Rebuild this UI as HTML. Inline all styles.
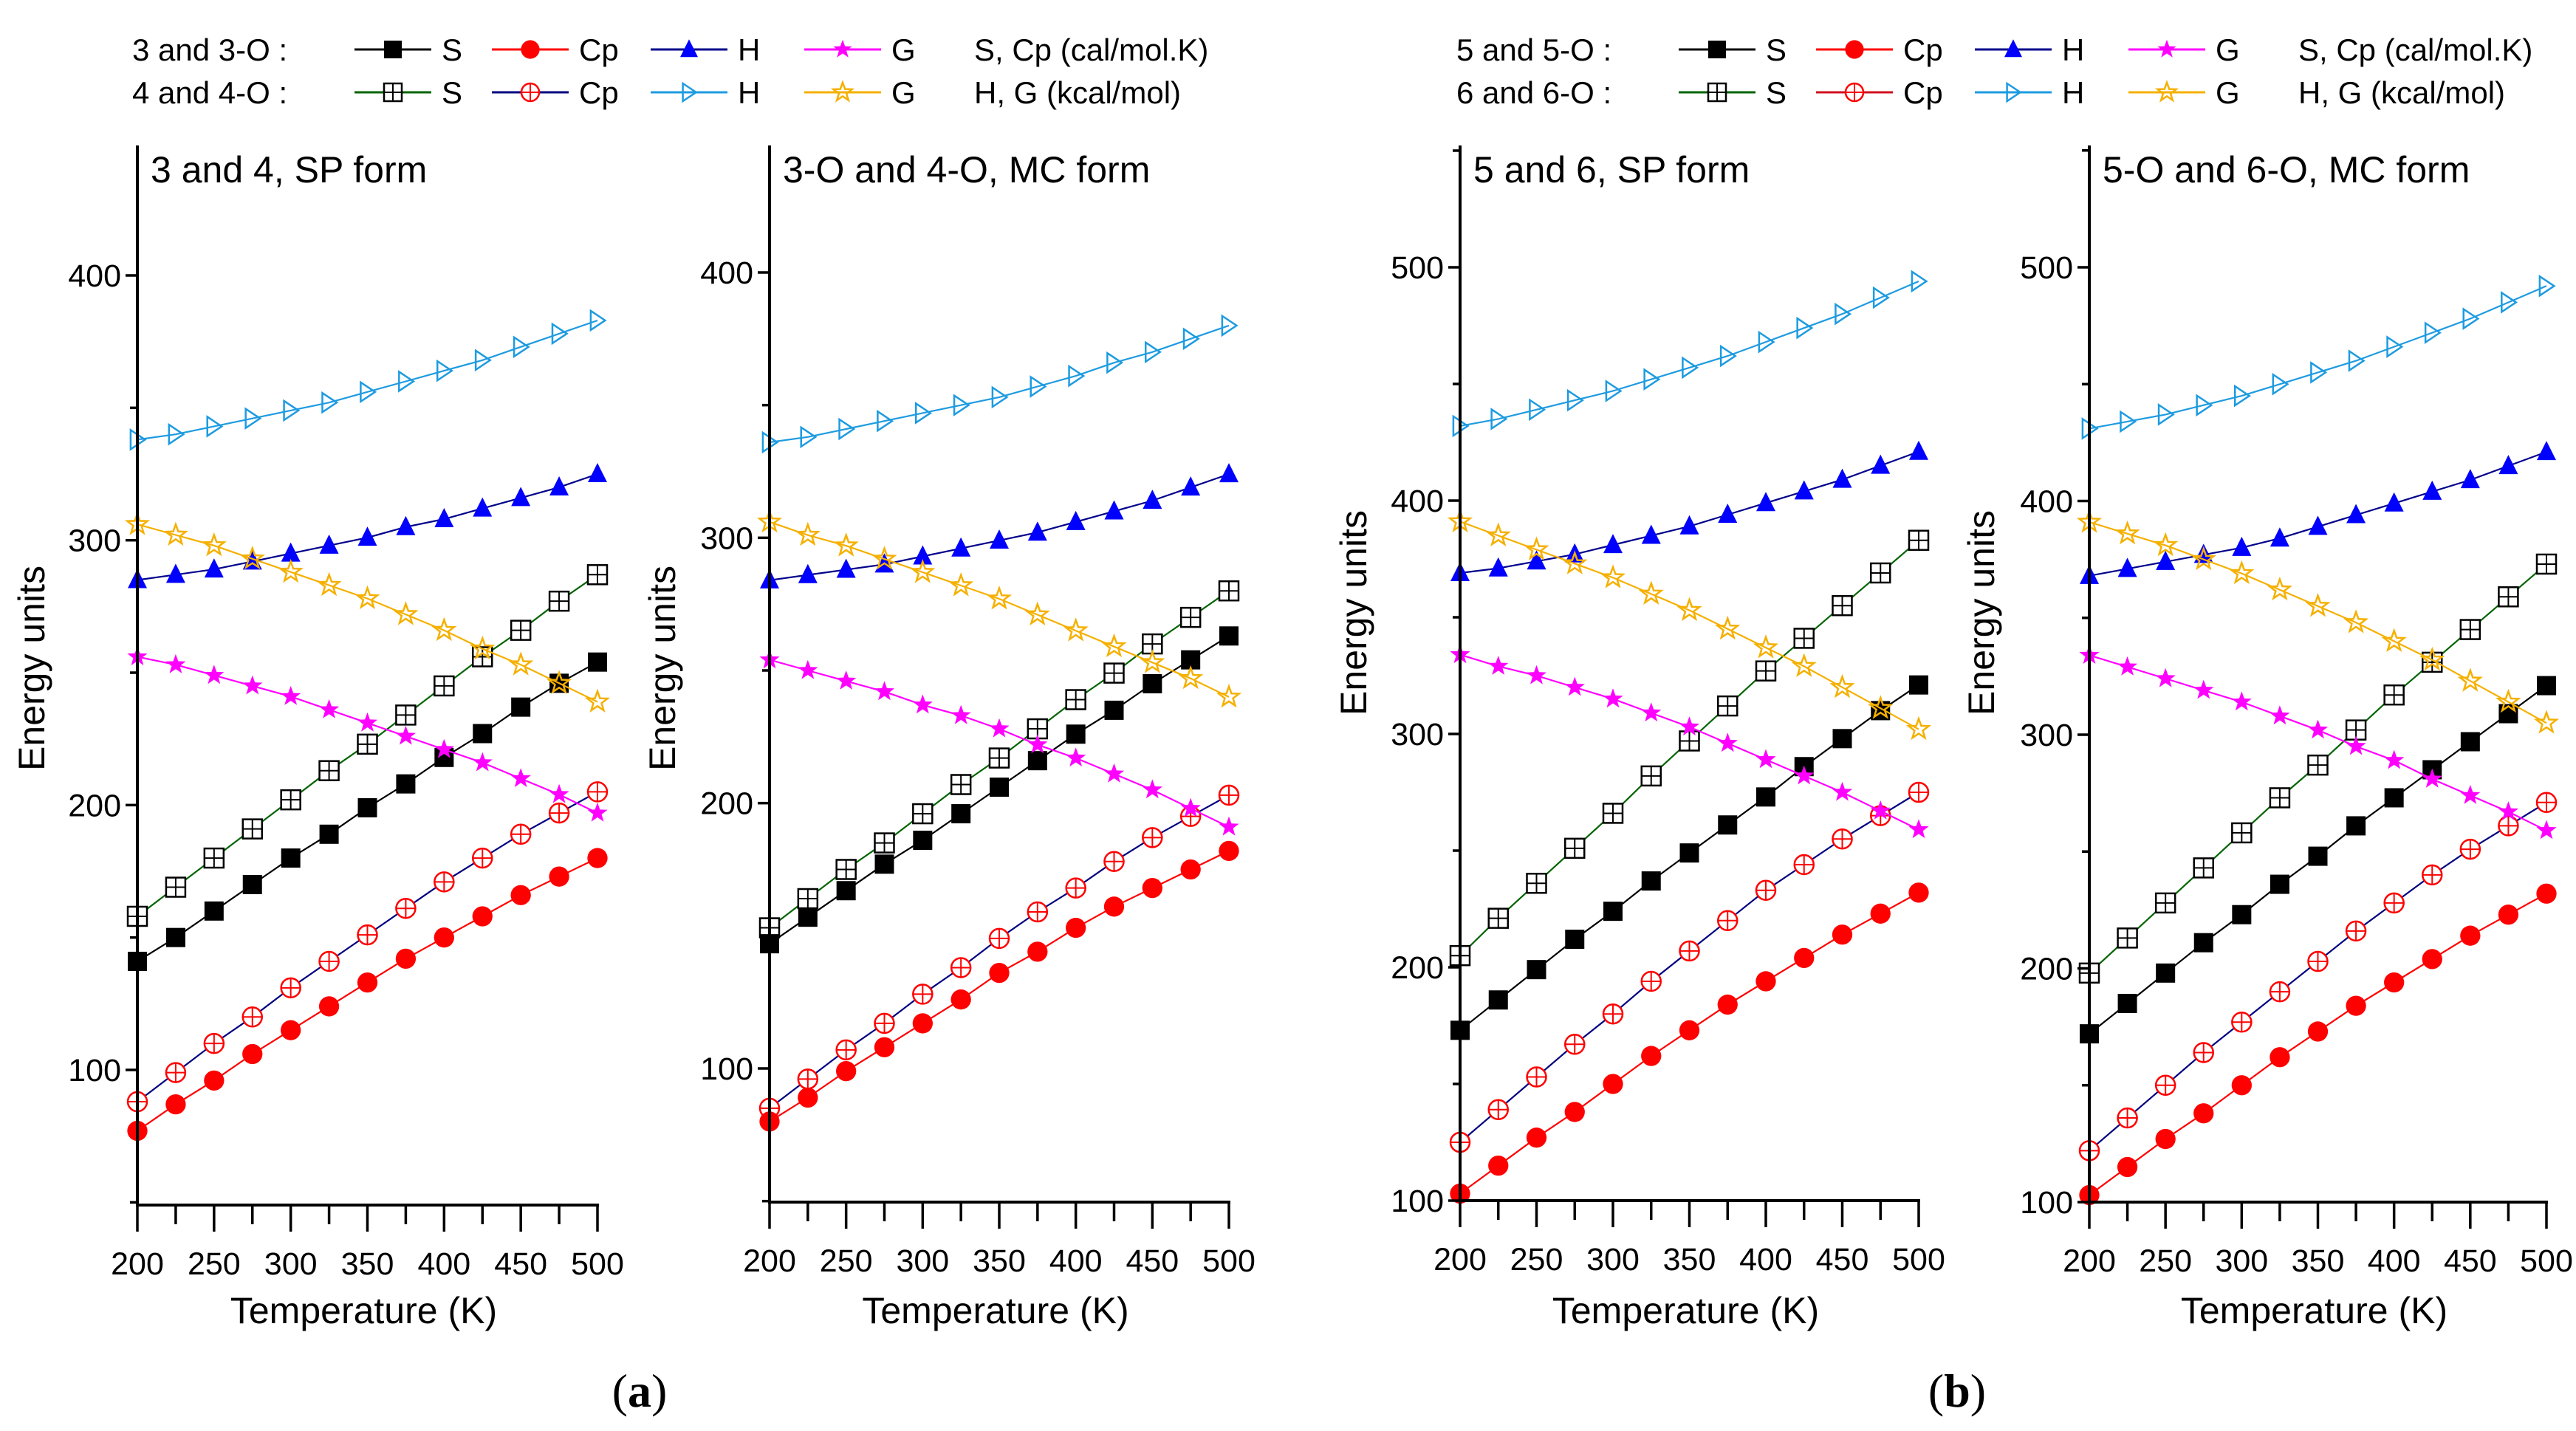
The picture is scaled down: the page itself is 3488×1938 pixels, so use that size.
<!DOCTYPE html>
<html><head><meta charset="utf-8">
<style>
html,body{margin:0;padding:0;background:#fff;}
svg{display:block;font-family:"Liberation Sans",sans-serif;}
</style></head>
<body>
<svg id="fig" width="3488" height="1938" viewBox="0 0 3488 1938" xmlns="http://www.w3.org/2000/svg">
<g id="legends"></g>
<g id="panels"></g>
<text x="866" y="1905" font-family="Liberation Serif, serif" font-size="64" text-anchor="middle">(<tspan font-weight="bold">a</tspan>)</text>
<text x="2650" y="1905" font-family="Liberation Serif, serif" font-size="64" text-anchor="middle">(<tspan font-weight="bold">b</tspan>)</text>
</svg>
<script>
const temps = [200,225,250,275,300,325,350,375,400,425,450,475,500];
const xTicks = [200,250,300,350,400,450,500];
const yTicksA = [100,200,300,400];
const yTicksB = [100,200,300,400,500];

// panel a1
const a1_S3  = [141,150,160,170,180,189,199,208,218,227,237,246,254];
const a1_Cp3 = [77,87,96,106,115,124,133,142,150,158,166,173,180];
const a1_H3  = [285,287,289,292,295,298,301,305,308,312,316,320,325];
const a1_G3  = [256,253,249,245,241,236,231,226,221,216,210,204,197];
const a1_S4  = [158,169,180,191,202,213,223,234,245,256,266,277,287];
const a1_Cp4 = [88,99,110,120,131,141,151,161,171,180,189,197,205];
const a1_H4  = [338,340,343,346,349,352,356,360,364,368,373,378,383];
const a1_G4  = [306,302,298,293,288,283,278,272,266,259,253,246,239];
// panel a2
const a2_S3  = [147,157,167,177,186,196,206,216,226,235,245,254,263];
const a2_Cp3 = [80,89,99,108,117,126,136,144,153,161,168,175,182];
const a2_H3  = [284,286,288,290,293,296,299,302,306,310,314,319,324];
const a2_G3  = [254,250,246,242,237,233,228,222,217,211,205,198,191];
const a2_S4  = [153,164,175,185,196,207,217,228,239,249,260,270,280];
const a2_Cp4 = [85,96,107,117,128,138,149,159,168,178,187,195,203];
const a2_H4  = [336,338,341,344,347,350,353,357,361,366,370,375,380];
const a2_G4  = [306,301,297,292,287,282,277,271,265,259,253,247,240];
// panel b1
const b1_S5  = [173,186,199,212,224,237,249,261,273,286,298,310,321];
const b1_Cp5 = [103,115,127,138,150,162,173,184,194,204,214,223,232];
const b1_H5  = [369,371,374,377,381,385,389,394,399,404,409,415,421];
const b1_G5  = [334,329,325,320,315,309,303,296,289,282,275,267,259];
const b1_S6  = [205,221,236,251,266,282,297,312,327,341,355,369,383];
const b1_Cp6 = [125,139,153,167,180,194,207,220,233,244,255,265,275];
const b1_H6  = [432,435,439,443,447,452,457,462,468,474,480,487,494];
const b1_G6  = [391,385,379,373,367,360,353,345,337,329,320,311,302];
// panel b2
const b2_S5  = [172,185,198,211,223,236,248,261,273,285,297,309,321];
const b2_Cp5 = [103,115,127,138,150,162,173,184,194,204,214,223,232];
const b2_H5  = [368,371,374,377,380,384,389,394,399,404,409,415,421];
const b2_G5  = [334,329,324,319,314,308,302,295,289,281,274,267,259];
const b2_S6  = [198,213,228,243,258,273,287,302,317,331,345,359,373];
const b2_Cp6 = [122,136,150,164,177,190,203,216,228,240,251,261,271];
const b2_H6  = [431,434,437,441,445,450,455,460,466,472,478,485,492];
const b2_G6  = [391,386,381,375,369,362,355,348,340,332,323,314,305];

const NS = "http://www.w3.org/2000/svg";
function mk(tag, attrs, parent){const e=document.createElementNS(NS,tag);for(const k in attrs)e.setAttribute(k,attrs[k]);if(parent)parent.appendChild(e);return e;}

const styles = {
  S1:{line:"#000",kind:"sqf",col:"#000"},
  Cp1:{line:"#ff0000",kind:"cirf",col:"#ff0000"},
  H1:{line:"#00008b",kind:"trif",col:"#0000ff"},
  G1:{line:"#ff00ff",kind:"starf",col:"#ff00ff"},
  S2:{line:"#006400",kind:"sqo",col:"#000"},
  Cp2:{line:"#000080",kind:"ciro",col:"#ff0000"},
  H2:{line:"#1e9be0",kind:"trio",col:"#1e9be0"},
  G2:{line:"#f5b000",kind:"staro",col:"#f5b000"}
};

function marker(g, kind, col, x, y, s){
  const r=s/2;
  if(kind==="sqf") mk("rect",{x:x-r,y:y-r,width:s,height:s,fill:col},g);
  else if(kind==="sqo"){mk("rect",{x:x-r,y:y-r,width:s,height:s,fill:"#fff",stroke:col,"stroke-width":2.5},g);
    mk("path",{d:`M${x-r} ${y}H${x+r}M${x} ${y-r}V${y+r}`,stroke:col,"stroke-width":2},g);}
  else if(kind==="cirf") mk("circle",{cx:x,cy:y,r:r*1.05,fill:col},g);
  else if(kind==="ciro"){mk("circle",{cx:x,cy:y,r:r,fill:"#fff",stroke:col,"stroke-width":2.5},g);
    mk("path",{d:`M${x-r} ${y}H${x+r}M${x} ${y-r}V${y+r}`,stroke:col,"stroke-width":2},g);}
  else if(kind==="trif") mk("path",{d:`M${x} ${y-r*1.15}L${x+r} ${y+r*0.85}L${x-r} ${y+r*0.85}Z`,fill:col},g);
  else if(kind==="trio") mk("path",{d:`M${x-r*0.7} ${y-r}L${x+r*0.8} ${y}L${x-r*0.7} ${y+r}Z`,fill:"#fff","fill-opacity":0,stroke:col,"stroke-width":2.5},g);
  else {
    let d="";for(let i=0;i<10;i++){const a=-Math.PI/2+i*Math.PI/5;const rr=i%2?r*0.45:r*1.1;d+=(i?"L":"M")+(x+rr*Math.cos(a)).toFixed(1)+" "+(y+rr*Math.sin(a)).toFixed(1);}d+="Z";
    if(kind==="starf") mk("path",{d,fill:col},g); else mk("path",{d,fill:"none",stroke:col,"stroke-width":2.5},g);
  }
}

const panels = [
  {id:"a1",x0:186,x1:809,top:197,bot:1632,v1:100,p1:1449,v2:400,p2:373,yt:yTicksA,minor:50,title:"3 and 4, SP form",ylab:60,
   series:[["S2",a1_S4],["S1",a1_S3],["Cp2",a1_Cp4],["Cp1",a1_Cp3],["H2",a1_H4],["H1",a1_H3],["G2",a1_G4],["G1",a1_G3]]},
  {id:"a2",x0:1042,x1:1664,top:197,bot:1628,v1:100,p1:1447,v2:400,p2:369,yt:yTicksA,minor:50,title:"3-O and 4-O, MC form",ylab:914,
   series:[["S2",a2_S4],["S1",a2_S3],["Cp2",a2_Cp4],["Cp1",a2_Cp3],["H2",a2_H4],["H1",a2_H3],["G2",a2_G4],["G1",a2_G3]]},
  {id:"b1",x0:1977,x1:2598,top:197,bot:1626,v1:100,p1:1626,v2:500,p2:362,yt:yTicksB,minor:50,title:"5 and 6, SP form",ylab:1850,
   series:[["S2",b1_S6],["S1",b1_S5],["Cp2",b1_Cp6],["Cp1",b1_Cp5],["H2",b1_H6],["H1",b1_H5],["G2",b1_G6],["G1",b1_G5]]},
  {id:"b2",x0:2829,x1:3448,top:197,bot:1628,v1:100,p1:1628,v2:500,p2:362,yt:yTicksB,minor:50,title:"5-O and 6-O, MC form",ylab:2700,
   series:[["S2",b2_S6],["S1",b2_S5],["Cp2",b2_Cp6],["Cp1",b2_Cp5],["H2",b2_H6],["H1",b2_H5],["G2",b2_G6],["G1",b2_G5]]}
];

const root=document.getElementById("panels");
panels.forEach(p=>{
  const g=mk("g",{},root);
  
  
  const X=v=>p.x0+(v-200)/300*(p.x1-p.x0);
  const Y=v=>p.p1+(v-p.v1)/(p.v2-p.v1)*(p.p2-p.p1);
  const vmin=p.v1+(p.bot-p.p1)/(p.p2-p.p1)*(p.v2-p.v1);
  const vmax=p.v1+(p.top-p.p1)/(p.p2-p.p1)*(p.v2-p.v1);
  p.series.forEach(([key,vals])=>{
    const st=styles[key];
    const sg=mk("g",{},g);
    
    
    mk("polyline",{points:temps.map((t,i)=>X(t).toFixed(1)+","+Y(vals[i]).toFixed(1)).join(" "),fill:"none",stroke:st.line,"stroke-width":2.2},sg);
    temps.forEach((t,i)=>marker(sg,st.kind,st.col,X(t),Y(vals[i]),26));
  });
  const ax=mk("g",{stroke:"#000","stroke-width":4,fill:"none"},g);
  
  
  mk("line",{x1:p.x0,y1:p.top,x2:p.x0,y2:p.bot+2},ax);
  mk("line",{x1:p.x0-2,y1:p.bot,x2:p.x1+2,y2:p.bot},ax);
  for(let t=200;t<=500;t+=25){const big=t%50===0;mk("line",{x1:X(t),y1:p.bot,x2:X(t),y2:p.bot+(big?36:26),"stroke-width":3.5},ax);}
  for(let v=Math.ceil(vmin/p.minor)*p.minor;v<=vmax;v+=p.minor){const big=v%100===0;mk("line",{x1:p.x0,y1:Y(v),x2:p.x0-(big?16:10),y2:Y(v),"stroke-width":3.5},ax);}
  xTicks.forEach(t=>{const tx=mk("text",{x:X(t),y:p.bot+94,"font-size":43,"text-anchor":"middle"},g);tx.textContent=t;
    
    });
  p.yt.forEach(v=>{const tx=mk("text",{x:p.x0-22,y:Y(v)+15,"font-size":43,"text-anchor":"end"},g);tx.textContent=v;
    
    });
  const ti=mk("text",{x:p.x0+18,y:p.top+50,"font-size":50},g);ti.textContent=p.title;
  
  
  const xl=mk("text",{x:(p.x0+p.x1)/2-5,y:1792,"font-size":50,"text-anchor":"middle"},g);xl.textContent="Temperature (K)";
  
  
  const cy=p.id[0]==="a"?905:830;
  const yl=mk("text",{x:p.ylab,y:cy,"font-size":50,"text-anchor":"middle",transform:`rotate(-90 ${p.ylab} ${cy})`},g);yl.textContent="Energy units";
  
  
});

const lroot=document.getElementById("legends");
function legend(x0, rows, units, cp2line){
  const lg=mk("g",{},lroot);
  
  
  rows.forEach((lab,ri)=>{
    const y=[67,125][ri];
    const t=mk("text",{x:x0,y:y+15,"font-size":42},lg);t.textContent=lab;
    const keys=ri===0?["S1","Cp1","H1","G1"]:["S2","Cp2","H2","G2"];
    const names=["S","Cp","H","G"];
    const lx=[301,487,702,910];
    keys.forEach((k,i)=>{
      const e=mk("g",{},lg);
      
      
      const st=styles[k];
      const sx=x0+lx[i];
      const lc=(k==="Cp2"&&cp2line)?cp2line:st.line;
      mk("line",{x1:sx,y1:y,x2:sx+104,y2:y,stroke:lc,"stroke-width":3},e);
      marker(e,st.kind,st.col,sx+52,y,24);
      const tt=mk("text",{x:sx+118,y:y+15,"font-size":42},e);tt.textContent=names[i];
    });
    const u=mk("text",{x:x0+1140,y:y+15,"font-size":42},lg);u.textContent=units[ri];
  });
}
legend(179,["3 and 3-O :","4 and 4-O :"],["S, Cp (cal/mol.K)","H, G (kcal/mol)"],null);
legend(1972,["5 and 5-O :","6 and 6-O :"],["S, Cp (cal/mol.K)","H, G (kcal/mol)"],"#d01020");
</script>
</body></html>
